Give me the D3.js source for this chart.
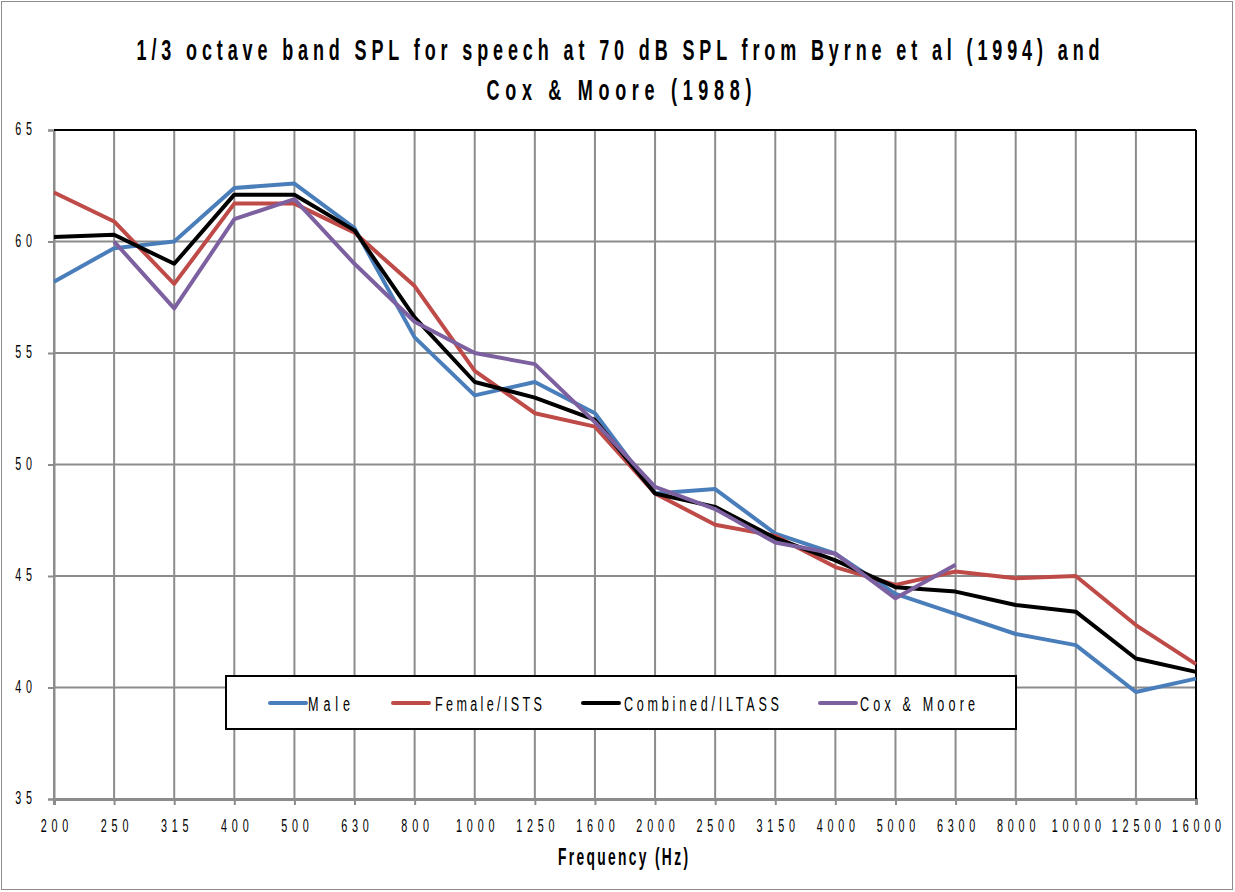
<!DOCTYPE html>
<html><head><meta charset="utf-8">
<script src="https://cdn.jsdelivr.net/npm/d3@7"></script>
<style>
html,body{margin:0;padding:0;background:#fff;}
text{font-family:"Liberation Sans Narrow","Arial Narrow","Liberation Sans",Arial,sans-serif;fill:#000;}
</style></head>
<body><svg id="chart" width="1235" height="892"></svg>
<script>
const frequencies = ["200","250","315","400","500","630","800","1000","1250","1600","2000","2500","3150","4000","5000","6300","8000","10000","12500","16000"];
const male = [58.2,59.7,60.0,62.4,62.6,60.6,55.7,53.1,53.7,52.3,48.7,48.9,46.9,46.0,44.2,43.3,42.4,41.9,39.8,40.4];
const female = [62.2,60.9,58.1,61.7,61.7,60.4,58.0,54.2,52.3,51.7,48.7,47.3,46.8,45.4,44.6,45.2,44.9,45.0,42.8,41.05];
const combined = [60.2,60.3,59.0,62.1,62.1,60.5,56.6,53.7,53.0,52.0,48.7,48.1,46.7,45.7,44.5,44.3,43.7,43.4,41.3,40.7];
const coxMoore = [null,60.0,57.0,61.0,61.9,59.0,56.4,55.0,54.5,51.9,49.0,48.0,46.5,46.0,44.0,45.5,null,null,null,null];
const yTicks = [35,40,45,50,55,60,65];
const seriesNames = ["Male","Female/ISTS","Combined/ILTASS","Cox & Moore"];
const seriesColors = ["#4a7ebb","#be4b48","#000000","#7d60a0"];
const titleLines = ["1/3 octave band SPL for speech at 70 dB SPL from  Byrne et al (1994) and","Cox & Moore (1988)"];
const xTitle = "Frequency (Hz)";

const S = 0.6; // horizontal condensing to mimic a narrow font
const svg = d3.select("#chart");
const L = 54, R = 1196, T = 130, B = 799;
const x = d3.scalePoint().domain(frequencies).range([L, R]);
const y = d3.scaleLinear().domain([35, 65]).range([B, T]);

function ctext(parent, px, py, txt, size, w, anchor, bold){
  const gg = parent.append("g").attr("transform",`translate(${px},${py}) scale(${S},1)`);
  gg.append("text").attr("x",0).attr("y",0).attr("text-anchor",anchor)
    .attr("font-size",size).attr("font-weight",bold?"bold":"normal")
    .attr("textLength",w/S).attr("lengthAdjust","spacing").text(txt);
}

// outer border
svg.append("rect").attr("x",1.5).attr("y",1.5).attr("width",1231).attr("height",888)
  .attr("fill","none").attr("stroke","#8c8c8c").attr("stroke-width",1);

// title
ctext(svg, 618, 60, titleLines[0], 30, 963, "middle", true);
ctext(svg, 619, 100, titleLines[1], 30, 265, "middle", true);

// gridlines
const g = svg.append("g");
g.selectAll("line.v").data(frequencies).join("line")
  .attr("x1",d=>x(d)).attr("x2",d=>x(d)).attr("y1",T).attr("y2",B)
  .attr("stroke","#8c8c8c").attr("stroke-width",2);
g.selectAll("line.h").data(yTicks).join("line")
  .attr("x1",L).attr("x2",R).attr("y1",d=>y(d)).attr("y2",d=>y(d))
  .attr("stroke","#8c8c8c").attr("stroke-width",2);

// y axis
const ya = svg.append("g").attr("transform",`translate(${L},0)`)
  .call(d3.axisLeft(y).tickValues(yTicks).tickSize(6).tickPadding(14).tickFormat(d3.format("d")));
ya.select(".domain").attr("stroke","#8c8c8c").attr("stroke-width",2);
ya.selectAll(".tick line").attr("stroke","#8c8c8c").attr("stroke-width",2);
ya.selectAll(".tick text").attr("font-size",18).attr("fill","#000")
  .attr("font-family","'Liberation Sans Narrow','Arial Narrow','Liberation Sans',sans-serif")
  .style("letter-spacing","8px").attr("x",-22/S).attr("dx",8).attr("dy","0.25em")
  .attr("transform",`scale(${S},1)`);

// x axis
const xa = svg.append("g").attr("transform",`translate(0,${B})`)
  .call(d3.axisBottom(x).tickSize(6).tickPadding(14));
xa.select(".domain").attr("stroke","#8c8c8c").attr("stroke-width",3);
xa.selectAll(".tick line").attr("stroke","#8c8c8c").attr("stroke-width",2);
xa.selectAll(".tick text").attr("font-size",18).attr("fill","#000")
  .attr("font-family","'Liberation Sans Narrow','Arial Narrow','Liberation Sans',sans-serif")
  .style("letter-spacing","8px").attr("dx",4).attr("y",33).attr("dy",0)
  .attr("transform",`scale(${S},1)`);

// top and right borders
svg.append("line").attr("x1",L).attr("x2",R).attr("y1",T).attr("y2",T).attr("stroke","#000").attr("stroke-width",2);
svg.append("line").attr("x1",R).attr("x2",R).attr("y1",T).attr("y2",B).attr("stroke","#000").attr("stroke-width",2);

// x title
ctext(svg, 623, 865, xTitle, 23, 130, "middle", true);

// lines
const allSeries = [male,female,combined,coxMoore];
const line = d3.line().defined(d=>d.v!=null).x(d=>x(d.f)).y(d=>y(d.v));
allSeries.forEach((s,i)=>{
  svg.append("path").datum(frequencies.map((f,j)=>({f:f,v:s[j]})))
    .attr("d",line).attr("fill","none").attr("stroke",seriesColors[i])
    .attr("stroke-width",4).attr("stroke-linejoin","round");
});

// legend
const lg = svg.append("g");
lg.append("rect").attr("x",226).attr("y",676).attr("width",790).attr("height",53)
  .attr("fill","#fff").attr("stroke","#000").attr("stroke-width",2);
const legItems = [{x:270,tx:308,w:42},{x:393,tx:435,w:107},{x:583,tx:624,w:155},{x:820,tx:860,w:115}];
legItems.forEach((d,i)=>{
  lg.append("line").attr("x1",d.x).attr("x2",d.x+36).attr("y1",703).attr("y2",703)
    .attr("stroke",seriesColors[i]).attr("stroke-width",4).attr("stroke-linecap","round");
  ctext(lg, d.tx, 711, seriesNames[i], 21, d.w, "start", false);
});
</script></body></html>
